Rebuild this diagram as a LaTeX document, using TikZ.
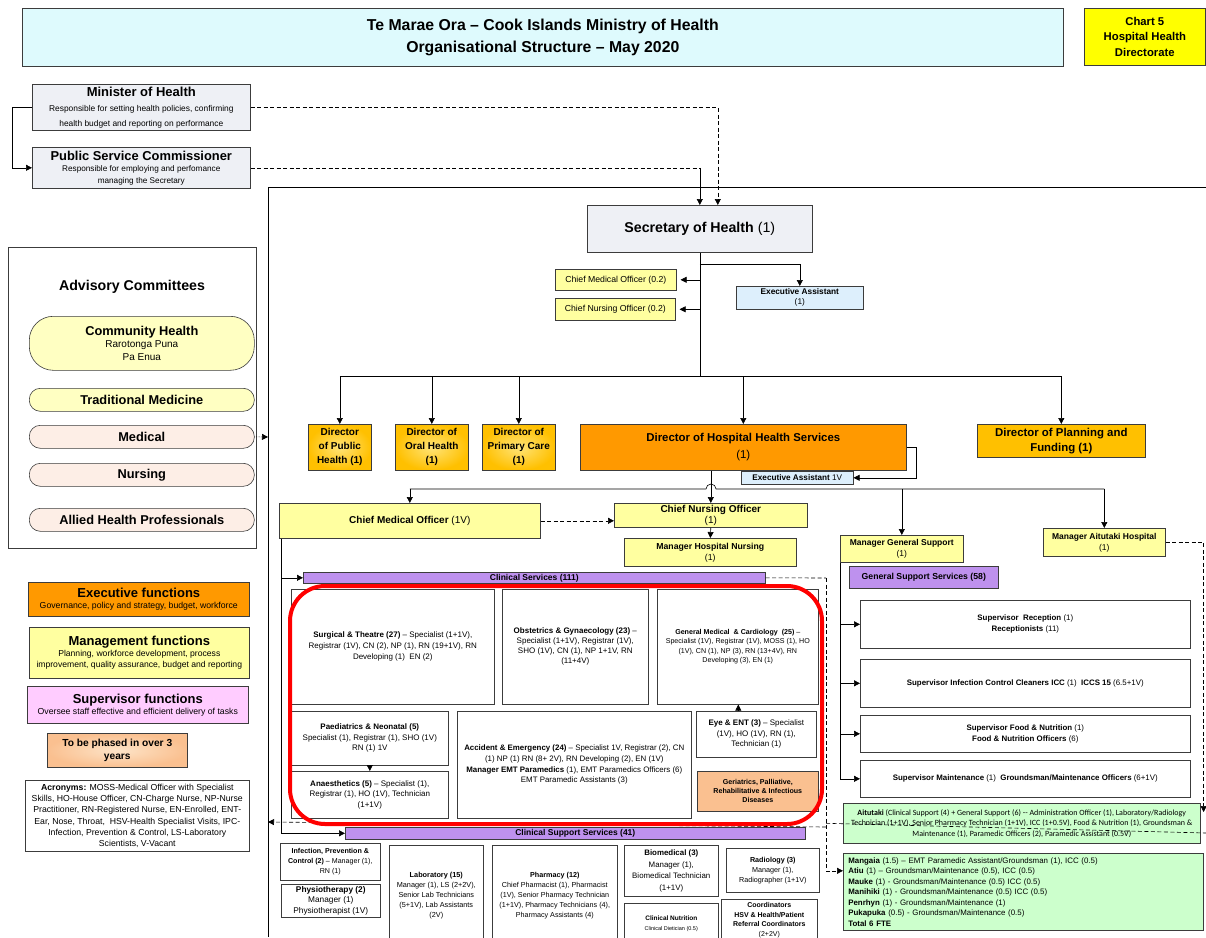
\documentclass[tikz,border=0pt]{standalone}
\usepackage{fontspec}
\setmainfont{Liberation Sans}
\newfontfamily\calibri{Carlito}
\usepackage{tikz}
\usetikzlibrary{arrows.meta}
\definecolor{linegray}{RGB}{60,60,60}
\definecolor{titlecyan}{RGB}{222,250,253}
\definecolor{chartyellow}{RGB}{255,255,0}
\definecolor{secgray}{RGB}{238,240,245}
\definecolor{eablue}{RGB}{221,239,252}
\definecolor{mgryellow}{RGB}{255,255,160}
\definecolor{dirgold}{RGB}{255,192,0}
\definecolor{dirlight}{RGB}{255,228,120}
\definecolor{dhhsorange}{RGB}{255,153,0}
\definecolor{svcpurple}{RGB}{190,145,238}
\definecolor{phased}{RGB}{250,192,144}
\definecolor{phasedlight}{RGB}{253,228,200}
\definecolor{suppink}{RGB}{255,204,255}
\definecolor{islgreen}{RGB}{204,255,204}
\definecolor{pillyellow}{RGB}{255,255,194}
\definecolor{pillpink}{RGB}{253,238,230}
\tikzset{
  box/.style={draw=linegray, line width=0.6pt, align=center, inner sep=1pt, anchor=north west},
  wh/.style 2 args={minimum width=#1pt, minimum height=#2pt},
  fs/.style 2 args={font=\fontsize{#1}{#2}\selectfont},
  fsb/.style 2 args={font=\fontsize{#1}{#2}\selectfont\bfseries},
  dirshade/.style={inner color=dirlight, outer color=dirgold},
  pill/.style={box, rounded corners=11pt, wh={225}{23}, fsb={12.8}{15}},
  arr/.style={->, >={Triangle[length=6pt,width=6pt]}, draw=black, line width=0.6pt},
  darr/.style={arr, dash pattern=on 4pt off 2.5pt},
  dline/.style={draw=black, line width=0.6pt, dash pattern=on 4pt off 2.5pt},
  link/.style={draw=black, line width=0.6pt},
}

\begin{document}
\begin{tikzpicture}[x=1pt, y=-1pt]
  \useasboundingbox (0,0) rectangle (1206,937);

  % header
  \node[box, wh={1041}{58}, fill=titlecyan, fsb={15.8}{22}] (title) at (22,8) {Te Marae Ora -- Cook Islands Ministry of Health\\Organisational Structure -- May 2020};
  \node[box, wh={121}{57}, fill=chartyellow, fsb={11.3}{15.5}] (chart) at (1084,8) {Chart 5\\Hospital Health\\Directorate};

  % minister and commissioner
  \node[box, wh={218}{46}, fill=secgray, fs={8.4}{15}, inner sep=0pt] (mh) at (32,84) {{\fontsize{13}{14}\selectfont\bfseries Minister of Health}\\Responsible for setting health policies, confirming\\health budget and reporting on performance};
  \node[box, wh={218}{41}, fill=secgray, fs={8.2}{11.5}, inner sep=0pt] (psc) at (32,147) {{\fontsize{12.9}{14}\selectfont\bfseries Public Service Commissioner}\\Responsible for employing and perfomance\\managing the Secretary};

  % ministry frame
  \draw[link] (268,937) |- (1206,187);

  % secretary level
  \node[box, wh={225}{47}, fill=secgray, fs={14.2}{16}] (sec) at (587,205) {\textbf{Secretary of Health} (1)};
  \node[box, wh={121}{21}, fill=mgryellow, fs={8.7}{10}] (cmo2) at (555,269) {Chief Medical Officer (0.2)};
  \node[box, wh={120}{22}, fill=mgryellow, fs={8.7}{10}] (cno2) at (555,298) {Chief Nursing Officer (0.2)};
  \node[box, wh={127}{23}, fill=eablue, fs={8.3}{10}, inner sep=0pt] (ea) at (736,286) {\textbf{Executive Assistant}\\(1)};

  % directors
  \node[box, wh={63}{46}, dirshade, fsb={10}{14}, inner sep=0pt] (dph) at (308,424) {Director\\of Public\\Health (1)};
  \node[box, wh={73}{46}, dirshade, fsb={10}{14}, inner sep=0pt] (doh) at (395,424) {Director of\\Oral Health\\(1)};
  \node[box, wh={73}{46}, dirshade, fsb={10}{14}, inner sep=0pt] (dpc) at (482,424) {Director of\\Primary Care\\(1)};
  \node[box, wh={326}{46}, fill=dhhsorange, fs={11.4}{17}] (dhhs) at (580,424) {\textbf{Director of Hospital Health Services}\\(1)};
  \node[box, wh={168}{33}, fill=dirgold, fsb={11.4}{15}, inner sep=0pt] (dpf) at (977,424) {Director of Planning and\\Funding (1)};
  \node[box, wh={112}{13}, fill=eablue, fs={8.2}{9}, inner sep=0pt] (ea2) at (741,471) {\textbf{Executive Assistant} 1V};

  % hospital management
  \node[box, wh={261}{35}, fill=mgryellow, fs={10}{12}] (cmo) at (279,503) {\textbf{Chief Medical Officer} (1V)};
  \node[box, wh={193}{24}, fill=mgryellow, fs={10}{11}, inner sep=0pt] (cno) at (614,503) {\textbf{Chief Nursing Officer}\\(1)};
  \node[box, wh={172}{28}, fill=mgryellow, fs={8.7}{11}, inner sep=0pt] (mhn) at (624,538) {\textbf{Manager Hospital Nursing}\\(1)};
  \node[box, wh={123}{27}, fill=mgryellow, fs={8.5}{11}, inner sep=0pt] (mgs) at (840,535) {\textbf{Manager General Support}\\(1)};
  \node[box, wh={122}{28}, fill=mgryellow, fs={8.5}{11}, inner sep=0pt] (mah) at (1043,528) {\textbf{Manager Aitutaki Hospital}\\(1)};
  \node[box, wh={149}{22}, fill=svcpurple, fsb={8.7}{10}] (gss) at (849,566) {General Support Services (58)};

  % clinical services
  \node[box, wh={462}{11}, fill=svcpurple, fsb={8.5}{9}, inner sep=0pt] (clin) at (303,572) {Clinical Services (111)};
  \node[box, wh={203}{115}, fs={8}{11}] (sur) at (291,589) {\textbf{Surgical \& Theatre (27)} -- Specialist (1+1V),\\Registrar (1V), CN (2), NP (1), RN (19+1V), RN\\Developing (1)~ EN (2)};
  \node[box, wh={146}{115}, fs={8}{10}] (obs) at (502,589) {\textbf{Obstetrics \& Gynaecology (23)} --\\Specialist (1+1V), Registrar (1V),\\SHO (1V), CN (1), NP 1+1V, RN\\(11+4V)};
  \node[box, wh={161}{115}, fs={7.1}{9.5}] (gen) at (657,589) {\textbf{General Medical ~\& Cardiology ~(25)} --\\Specialist (1V), Registrar (1V), MOSS (1), HO\\(1V), CN (1), NP (3), RN (13+4V), RN\\Developing (3), EN (1)};
  \node[box, wh={157}{54}, fs={8}{10.5}] (pae) at (291,711) {\textbf{Paediatrics \& Neonatal (5)}\\Specialist (1), Registrar (1), SHO (1V)\\RN (1) 1V};
  \node[box, wh={157}{47}, fs={8}{10.5}] (ana) at (291,771) {\textbf{Anaesthetics (5)} -- Specialist (1),\\Registrar (1), HO (1V), Technician\\(1+1V)};
  \node[box, wh={234}{107}, fs={7.9}{10.7}] (ae) at (457,711) {\textbf{Accident \& Emergency (24)} -- Specialist 1V, Registrar (2), CN\\(1) NP (1) RN (8+ 2V), RN Developing (2), EN (1V)\\\textbf{Manager EMT Paramedics} (1), EMT Paramedics Officers (6)\\EMT Paramedic Assistants (3)};
  \node[box, wh={120}{46}, fs={8}{10.5}] (eye) at (696,711) {\textbf{Eye \& ENT (3)} -- Specialist\\(1V), HO (1V), RN (1),\\Technician (1)};
  \node[box, wh={121}{40}, fill=phased, fsb={7.1}{9}] (ger) at (697,771) {Geriatrics, Palliative,\\Rehabilitative \& Infectious\\Diseases};

  % general support
  \node[box, wh={330}{48}, fs={7.9}{11}] (supr) at (860,600) {\textbf{Supervisor ~Reception} (1)\\\textbf{Receptionists} (11)};
  \node[box, wh={330}{48}, fs={7.9}{11}] (supi) at (860,659) {\textbf{Supervisor Infection Control Cleaners ICC} (1) ~\textbf{ICCS 15} (6.5+1V)};
  \node[box, wh={330}{37}, fs={7.9}{11}] (supf) at (860,715) {\textbf{Supervisor Food \& Nutrition} (1)\\\textbf{Food \& Nutrition Officers} (6)};
  \node[box, wh={330}{37}, fs={7.9}{11}] (supm) at (860,760) {\textbf{Supervisor Maintenance} (1) ~\textbf{Groundsman/Maintenance Officers} (6+1V)};

  % outer islands
  \node[box, wh={357}{40}, fill=islgreen, font=\calibri\fontsize{8}{10.5}\selectfont] (ait) at (843,803) {\textbf{Aitutaki} (Clinical Support (4) + General Support (6) -- Administration Officer (1), Laboratory/Radiology\\Technician (1+1V), Senior Pharmacy Technician (1+1V), ICC (1+0.5V), Food \& Nutrition (1), Groundsman \&\\Maintenance (1), Paramedic Officers (2), Paramedic Assistant (0.5V)};
  \node[box, wh={360}{77}, fill=islgreen, fs={7.9}{10.5}, align=left, text width=350pt] (isl) at (843,853) {\textbf{Mangaia} (1.5) -- EMT Paramedic Assistant/Groundsman (1), ICC (0.5)\\\textbf{Atiu} (1) -- Groundsman/Maintenance (0.5), ICC (0.5)\\\textbf{Mauke} (1) - Groundsman/Maintenance (0.5) ICC (0.5)\\\textbf{Manihiki} (1) - Groundsman/Maintenance (0.5) ICC (0.5)\\\textbf{Penrhyn} (1) - Groundsman/Maintenance (1)\\\textbf{Pukapuka} (0.5) - Groundsman/Maintenance (0.5)\\\textbf{Total 6 FTE}};

  % clinical support services
  \node[box, wh={460}{12}, fill=svcpurple, fsb={8.5}{9}, inner sep=0pt] (csup) at (345,827) {Clinical Support Services (41)};
  \node[box, wh={100}{37}, fs={7.1}{10}, inner sep=0pt] (ipc) at (280,843) {\textbf{Infection, Prevention \&}\\\textbf{Control (2)} -- Manager (1),\\RN (1)};
  \node[box, wh={99}{33}, fs={8.3}{10.5}, inner sep=0pt] (phy) at (281,884) {\textbf{Physiotherapy (2)}\\Manager (1)\\Physiotherapist (1V)};
  \node[box, wh={94}{100}, fs={7.3}{10}] (lab) at (389,845) {\textbf{Laboratory (15)}\\Manager (1), LS (2+2V),\\Senior Lab Technicians\\(5+1V), Lab Assistants\\(2V)};
  \node[box, wh={125}{100}, fs={7.2}{10}] (pha) at (492,845) {\textbf{Pharmacy (12)}\\Chief Pharmacist (1), Pharmacist\\(1V), Senior Pharmacy Technician\\(1+1V), Pharmacy Technicians (4),\\Pharmacy Assistants (4)};
  \node[box, wh={94}{51}, fs={7.9}{11.5}, inner sep=0pt] (bio) at (624,845) {\textbf{Biomedical (3)}\\Manager (1),\\Biomedical Technician\\(1+1V)};
  \node[box, wh={94}{40}, fs={5.5}{10}] (nut) at (624,903) {{\fontsize{6.5}{10}\selectfont\bfseries Clinical Nutrition}\\Clinical Dietician (0.5)};
  \node[box, wh={93}{44}, fs={7.2}{10}] (rad) at (726,848) {\textbf{Radiology (3)}\\Manager (1),\\Radiographer (1+1V)};
  \node[box, wh={96}{42}, fs={7}{9.5}] (coo) at (721,899) {\textbf{Coordinators}\\\textbf{HSV \& Health/Patient}\\\textbf{Referral Coordinators}\\(2+2V)};

  % advisory committees
  \node[box, wh={248}{301}] (adv) at (8,247) {};
  \node[fsb={14.2}{16}] (advt) at (132,287) {Advisory Committees};
  \node[pill, fill=pillyellow, wh={225}{54}, rounded corners=24pt, fs={10}{12.5}, inner sep=0pt] (ach) at (29,316) {{\fontsize{12.8}{14}\selectfont\bfseries Community Health}\\Rarotonga Puna\\Pa Enua};
  \node[pill, fill=pillyellow] (atm) at (29,388) {Traditional Medicine};
  \node[pill, fill=pillpink] (amed) at (29,425) {Medical};
  \node[pill, fill=pillpink] (anur) at (29,463) {Nursing};
  \node[pill, fill=pillpink] (aall) at (29,508) {Allied Health Professionals};

  % legend
  \node[box, wh={221}{34}, fill=dhhsorange, fs={8.7}{11}, inner sep=0pt] (lexe) at (28,582) {{\fontsize{13}{14}\selectfont\bfseries Executive functions}\\Governance, policy and strategy, budget, workforce};
  \node[box, wh={220}{51}, fill=mgryellow, fs={8.6}{11}, inner sep=0pt] (lman) at (29,627) {{\fontsize{13}{15}\selectfont\bfseries Management functions}\\Planning, workforce development, process\\improvement, quality assurance, budget and reporting};
  \node[box, wh={221}{37}, fill=suppink, fs={8.7}{11}, inner sep=0pt] (lsup) at (27,686) {{\fontsize{13}{15}\selectfont\bfseries Supervisor functions}\\Oversee staff effective and efficient delivery of tasks};
  \node[box, wh={140}{34}, inner color=phasedlight, outer color=phased, fsb={10.2}{13}, inner sep=0pt] (lpha) at (47,733) {To be phased in over 3\\years};
  \node[box, wh={224}{71}, fs={8.7}{11.2}, inner sep=0pt] (lacr) at (25,780) {\textbf{Acronyms:} MOSS-Medical Officer with Specialist\\Skills, HO-House Officer, CN-Charge Nurse, NP-Nurse\\Practitioner, RN-Registered Nurse, EN-Enrolled, ENT-\\Ear, Nose, Throat, ~HSV-Health Specialist Visits, IPC-\\Infection, Prevention \& Control, LS-Laboratory\\Scientists, V-Vacant};

  % reporting lines
  \coordinate (bus) at (700,376);
  \coordinate (easplit) at (700,264);
  \coordinate (bus2) at (711,489);
  \coordinate (dv) at (826,578);
  \draw[arr] (mh.west) -- ++(-20,0) |- (psc.west);
  \draw[darr] (mh.east) -| ([xshift=18pt]sec.north);
  \draw[dline] (psc.east) -- (psc.east -| sec.north);
  \draw[arr] (psc.east -| sec.north) -- (sec.north);
  \draw[link] (sec.south) -- (sec.south |- bus);
  \draw[arr] (sec.south |- easplit) -| (ea.north);
  \draw[arr] (sec.south |- cmo2.east) -- ([xshift=4pt]cmo2.east);
  \draw[arr] (sec.south |- cno2.east) -- ([xshift=4pt]cno2.east);
  \draw[link] (dph.north |- bus) -- (dpf.north |- bus);
  \foreach \d in {dph,doh,dpc,dhhs,dpf}
    \draw[arr] (\d.north |- bus) -- (\d.north);
  \draw[arr] (dhhs.east) -- ++(10,0) |- (ea2.east);
  \draw[arr] (dhhs.south -| cno.north) -- (cno.north);
  \draw[link] (cmo.north |- bus2) -- ([xshift=-5pt]bus2) arc[start angle=180, end angle=0, radius=5pt] -- (mah.north |- bus2);
  \foreach \d in {cmo,mgs,mah}
    \draw[arr] (\d.north |- bus2) -- (\d.north);
  \draw[darr] (cmo.east) -- (cmo.east -| cno.west);
  \draw[arr] (cno.south) -- (mhn.north);
  \draw[link] (mgs.south west) -- (mgs.south west |- supm.west);
  \foreach \s in {supr,supi,supf,supm}
    \draw[arr] (mgs.south west |- \s.west) -- (\s.west);
  \draw[arr] ([xshift=2pt]cmo.south west) |- (clin.west);
  \draw[arr] ([xshift=2pt]cmo.south west) |- (csup.west);
  \draw[arr] (pae.south) -- (ana.north);
  \draw[arr] ([xshift=-18pt]eye.north) -- ([xshift=-18pt]eye.north |- gen.south);
  \draw[dline] (clin.east) -- (dv);
  \draw[darr] (dv) |- ([yshift=21pt]isl.west);
  \draw[darr] (dv |- csup.north) -- (268,822);
  \draw[dline] (dv |- ait.east) -- (1206,833);
  \draw[darr] (mah.east) -| ([xshift=3pt, yshift=-9pt]ait.north east);
  \draw[densely dotted, arr] (amed.east) -- (268,437);

  % clinical services outline
  \draw[red, line width=4pt, rounded corners=35pt] (290,586) rectangle (822,824);
\end{tikzpicture}
\end{document}
